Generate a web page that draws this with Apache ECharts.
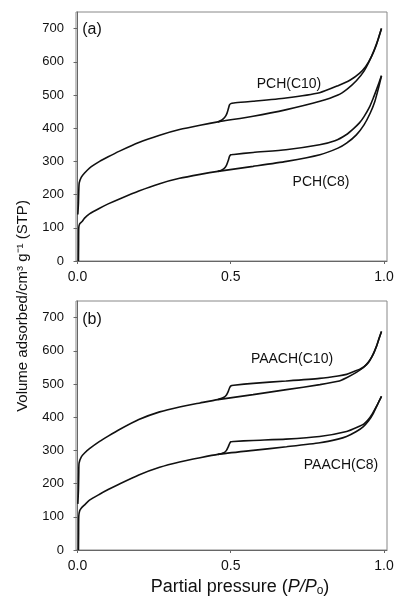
<!DOCTYPE html>
<html>
<head>
<meta charset="utf-8">
<script src="https://cdn.jsdelivr.net/npm/echarts@6/dist/echarts.min.js"></script>
<style>
  html, body { margin: 0; padding: 0; background: #fff; }
  #chart { width: 395px; height: 598px; }
</style>
</head>
<body>
<div id="chart"></div>
<script>
// axis ticks
const pressureTicks = [0, 0.5, 1];
const volumeTicks = [0, 100, 200, 300, 400, 500, 600, 700];

// (a) PCH(C10)
const pchC10AdsP = [0.001, 0.003, 0.004, 0.0055, 0.012, 0.023, 0.039, 0.072, 0.1, 0.137, 0.2, 0.268, 0.333, 0.4, 0.458, 0.573, 0.682, 0.791, 0.85, 0.88, 0.91, 0.935, 0.955, 0.97, 0.982, 0.992];
const pchC10AdsV = [140, 175, 210, 235, 252, 265, 280, 300, 314, 331, 357, 379, 396, 409, 419, 436, 456, 481, 500, 518, 543, 572, 607, 640, 670, 700];
const pchC10DesP = [0.992, 0.985, 0.975, 0.96, 0.94, 0.92, 0.89, 0.85, 0.79, 0.68, 0.573, 0.51, 0.5, 0.496, 0.492, 0.487, 0.48, 0.47, 0.458];
const pchC10DesV = [700, 680, 650, 617, 585, 565, 545, 528, 507, 491, 481, 476, 474, 470, 458, 443, 432, 424, 419];

// (a) PCH(C8)
const pchC8AdsP = [0.003, 0.0035, 0.004, 0.007, 0.015, 0.023, 0.039, 0.072, 0.1, 0.137, 0.2, 0.268, 0.333, 0.4, 0.458, 0.573, 0.682, 0.791, 0.85, 0.878, 0.91, 0.935, 0.955, 0.97, 0.982, 0.992];
const pchC8AdsV = [0, 50, 100, 112, 119, 129, 142, 159, 172, 187, 211, 233, 249, 261, 270, 285, 300, 320, 340, 355, 380, 410, 445, 480, 520, 558];
const pchC8DesP = [0.992, 0.985, 0.976, 0.965, 0.954, 0.935, 0.92, 0.9, 0.878, 0.84, 0.79, 0.68, 0.573, 0.51, 0.5, 0.496, 0.492, 0.486, 0.478, 0.468, 0.458];
const pchC8DesV = [558, 540, 517, 490, 466, 435, 416, 398, 381, 362, 350, 335, 327, 321, 320, 315, 303, 288, 278, 273, 270];

// (b) PAACH(C10)
const paachC10AdsP = [0.001, 0.003, 0.004, 0.005, 0.012, 0.023, 0.039, 0.072, 0.1, 0.137, 0.2, 0.268, 0.333, 0.4, 0.458, 0.573, 0.682, 0.791, 0.85, 0.878, 0.91, 0.932, 0.95, 0.965, 0.978, 0.992];
const paachC10AdsV = [139, 180, 230, 262, 280, 292, 305, 327, 343, 363, 393, 416, 431, 443, 453, 468, 483, 498, 508, 519, 535, 549, 567, 589, 620, 658];
const paachC10DesP = [0.992, 0.985, 0.976, 0.962, 0.949, 0.935, 0.92, 0.9, 0.878, 0.85, 0.79, 0.68, 0.573, 0.51, 0.5, 0.496, 0.492, 0.486, 0.478, 0.468, 0.458];
const paachC10DesV = [658, 640, 614, 585, 564, 552, 544, 537, 529, 524, 517, 509, 502, 496, 494, 488, 478, 467, 460, 456, 453];

// (b) PAACH(C8)
const paachC8AdsP = [0.003, 0.0035, 0.004, 0.007, 0.012, 0.023, 0.039, 0.072, 0.1, 0.137, 0.2, 0.268, 0.333, 0.4, 0.458, 0.573, 0.682, 0.791, 0.85, 0.878, 0.91, 0.932, 0.95, 0.965, 0.98, 0.992];
const paachC8AdsV = [0, 50, 101, 118, 126, 136, 150, 168, 182, 199, 226, 249, 265, 278, 288, 300, 311, 323, 334, 342, 357, 371, 389, 411, 440, 463];
const paachC8DesP = [0.992, 0.985, 0.976, 0.962, 0.949, 0.935, 0.92, 0.878, 0.79, 0.68, 0.573, 0.51, 0.5, 0.496, 0.492, 0.486, 0.478, 0.468, 0.458];
const paachC8DesV = [463, 450, 433, 410, 393, 380, 373, 357, 342, 334, 330, 327, 326, 320, 311, 300, 293, 290, 288];

const font = "'Liberation Sans', Arial, sans-serif";
const ink = "#111";
const axisGray = "#666";

const xAxisFor = (gridIndex) => ({
  type: "value",
  gridIndex,
  min: -0.005,
  max: 1.01,
  axisLine: { lineStyle: { color: axisGray, width: 1 } },
  axisTick: { customValues: pressureTicks, length: 3, lineStyle: { color: axisGray } },
  axisLabel: {
    customValues: pressureTicks,
    formatter: (v) => v.toFixed(1),
    color: ink,
    fontFamily: font,
    fontSize: 14,
    margin: 9,
  },
  splitLine: { show: false },
});

const yAxisFor = (gridIndex) => ({
  type: "value",
  gridIndex,
  min: 0,
  max: 750,
  axisLine: { show: true, lineStyle: { color: axisGray, width: 1 } },
  axisTick: { show: true, customValues: volumeTicks, length: 4, lineStyle: { color: axisGray } },
  axisLabel: {
    customValues: volumeTicks,
    color: ink,
    fontFamily: font,
    fontSize: 13,
    margin: 12,
  },
  splitLine: { show: false },
});

const branch = (idx, P, V) => ({
  type: "line",
  xAxisIndex: idx,
  yAxisIndex: idx,
  data: P.map((p, i) => [p, V[i]]),
  showSymbol: false,
  smooth: 0.2,
  lineStyle: { color: ink, width: 1.6 },
  silent: true,
  animation: false,
});

const label = (text, x, y, size) => ({
  type: "text",
  x,
  y,
  style: {
    text,
    fill: ink,
    font: `${size}px ${font}`,
    textAlign: "center",
    textVerticalAlign: "middle",
  },
});

const chart = echarts.init(document.getElementById("chart"));
chart.setOption({
  animation: false,
  grid: [
    { left: 76, top: 12, right: 8, height: 249, show: true, borderColor: "#888", borderWidth: 1, outerBoundsMode: "none" },
    { left: 76, top: 301, right: 8, height: 249, show: true, borderColor: "#888", borderWidth: 1, outerBoundsMode: "none" },
  ],
  xAxis: [xAxisFor(0), xAxisFor(1)],
  yAxis: [yAxisFor(0), yAxisFor(1)],
  series: [
    branch(0, pchC10AdsP, pchC10AdsV),
    branch(0, pchC10DesP, pchC10DesV),
    branch(0, pchC8AdsP, pchC8AdsV),
    branch(0, pchC8DesP, pchC8DesV),
    branch(1, paachC10AdsP, paachC10AdsV),
    branch(1, paachC10DesP, paachC10DesV),
    branch(1, paachC8AdsP, paachC8AdsV),
    branch(1, paachC8DesP, paachC8DesV),
  ],
  graphic: [
    label("(a)", 92, 30, 16),
    label("(b)", 92, 320, 16),
    label("PCH(C10)", 289, 84, 14),
    label("PCH(C8)", 321, 182, 14),
    label("PAACH(C10)", 292, 359, 14),
    label("PAACH(C8)", 341, 465, 14),
    {
      type: "text",
      x: 23,
      y: 306,
      rotation: Math.PI / 2,
      style: {
        text: "Volume adsorbed/cm³ g⁻¹ (STP)",
        fill: ink,
        font: `15px ${font}`,
        textAlign: "center",
        textVerticalAlign: "middle",
      },
    },
    {
      type: "text",
      x: 240,
      y: 587,
      style: {
        text: "Partial pressure ({i|P/P}{sub|o})",
        fill: ink,
        font: `18px ${font}`,
        textAlign: "center",
        textVerticalAlign: "middle",
        rich: {
          i: { fontStyle: "italic", fontSize: 18, fontFamily: font, lineHeight: 20, verticalAlign: "middle" },
          sub: { fontSize: 12, fontFamily: font, lineHeight: 12, verticalAlign: "bottom" },
        },
      },
    },
  ],
});
</script>
</body>
</html>
